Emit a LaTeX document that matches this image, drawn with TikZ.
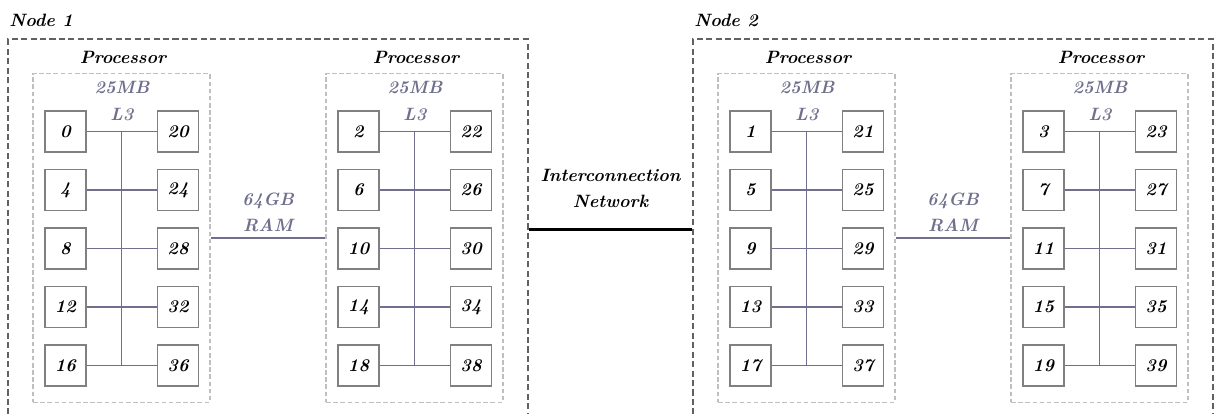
\documentclass[tikz,border=0pt]{standalone}
\usetikzlibrary{calc}
\definecolor{busgray}{RGB}{112,112,142}
\definecolor{coregray}{RGB}{128,128,128}
\tikzset{
    txt/.style={font={\fontsize{10}{14.6}\selectfont\bfseries\itshape}},
    core/.style={txt, draw=coregray, line width=1pt, minimum size=23pt, inner sep=0pt},
    proc/.style={draw=black!25, dash pattern=on 2.6pt off 1.4pt, line width=0.7pt,
        minimum width=99pt, minimum height=184pt, inner sep=0pt},
    machine/.style={draw=black!62, dash pattern=on 3.4pt off 1.9pt, line width=1pt,
        minimum width=291pt, minimum height=213pt, inner sep=0pt},
    cache/.style={txt, text=busgray},
    bus/.style={draw=busgray, line width=0.7pt},
    link/.style={draw=black, line width=1.8pt}
}
\begin{document}
\begin{tikzpicture}[x=0.56pt, y=-0.56pt]
    \useasboundingbox (0,0) rectangle (1214,414);
    \clip (0,0) rectangle (1214,414);
    % Compute nodes
    \node[machine] (n1) at (268,229.5) {};
    \node[machine] (n2) at (953,229.5) {};
    \node[txt, anchor=west, inner sep=0pt] (t1) at (9,20) {Node 1};
    \node[txt, anchor=west, inner sep=0pt] (t2) at (694,20) {Node 2};
    % Processors with their cores
    \foreach \q/\b/\xl in {1/0/33, 2/2/326, 3/1/718, 4/3/1011} {
        \node[proc] (p\q) at (\xl+88.5,238) {};
        \node[txt] (h\q) at (\xl+90,57) {Processor};
        \node[cache] (s\q) at (\xl+89,88) {25MB};
        \node[cache] (l\q) at (\xl+89,115) {L3};
        \foreach \r in {0,...,4} {
            \pgfmathtruncatemacro{\lo}{\b+4*\r}
            \pgfmathtruncatemacro{\hi}{\b+4*\r+20}
            \node[core] (c\lo) at (\xl+32.5,131.5+58.5*\r) {\lo};
            \node[core] (c\hi) at (\xl+145,131.5+58.5*\r) {\hi};
            \draw[bus] (c\lo) -- (c\hi);
        }
        \pgfmathtruncatemacro{\tr}{\b+20}
        \pgfmathtruncatemacro{\bl}{\b+16}
        \pgfmathtruncatemacro{\br}{\b+36}
        \draw[bus] ($(c\b)!0.5!(c\tr)$) -- ($(c\bl)!0.5!(c\br)$);
    }
    % Memory
    \draw[bus] (p1) -- node[cache, above=-0.3pt, align=center] (m1) {64GB\\RAM} (p2);
    \draw[bus] (p3) -- node[cache, above=-0.3pt, align=center] (m2) {64GB\\RAM} (p4);
    % Network
    \draw[link] (n1) -- node[txt, above=7.9pt, align=center] (net) {Interconnection\\Network} (n2);
\end{tikzpicture}
\end{document}
